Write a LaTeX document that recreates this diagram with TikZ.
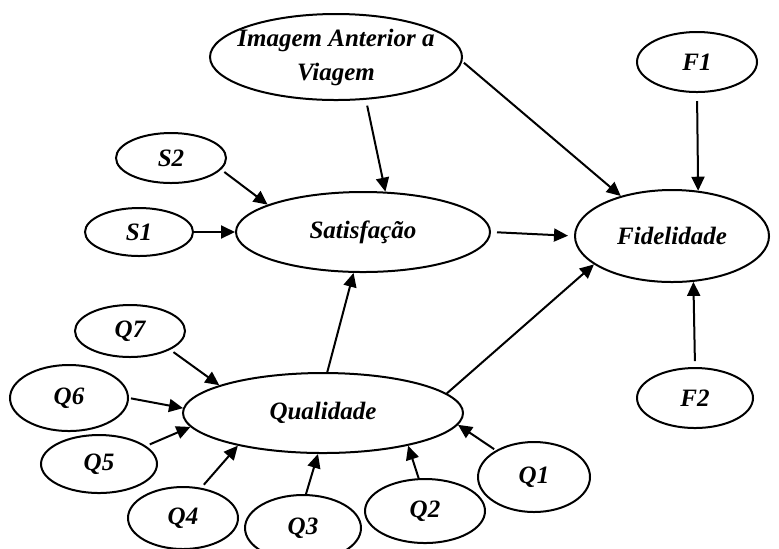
\documentclass[tikz,border=0pt]{standalone}
\usepackage{fontspec}
\setmainfont{Liberation Serif}
\usetikzlibrary{shapes.geometric,arrows.meta}

\begin{document}
\begin{tikzpicture}[x=0.5pt,y=-0.5pt,
    var/.style={ellipse,draw,line width=1pt,inner sep=0pt,font=\fontsize{12.5}{17}\selectfont\bfseries\itshape},
    arr/.style={line width=1pt,-{Triangle[length=7pt,width=6.5pt]}}]
        \useasboundingbox (0,0) rectangle (779,548);
        % constructs
        \node [var,inner xsep=-8pt,minimum width=126pt,minimum height=43pt,align=center] (img) at (336,57) {Imagem Anterior a\\Viagem};
        \node [var,minimum width=127pt,minimum height=40pt] (sat) at (363,232) {Satisfação};
        \node [var,minimum width=97pt,minimum height=46pt] (fid) at (672,236) {Fidelidade};
        \node [var,minimum width=140pt,minimum height=40pt] (qual) at (323,413) {Qualidade};
        % indicators
        \node [var,minimum width=60pt,minimum height=30pt] (f1) at (697,62) {F1};
        \node [var,minimum width=58pt,minimum height=30pt] (f2) at (695,398) {F2};
        \node [var,minimum width=55pt,minimum height=25pt] (s2) at (171,158) {S2};
        \node [var,minimum width=54pt,minimum height=24pt] (s1) at (139,232) {S1};
        \node [var,minimum width=55pt,minimum height=26pt] (q7) at (130,331) {Q7};
        \node [var,minimum width=59pt,minimum height=33pt] (q6) at (69,398) {Q6};
        \node [var,minimum width=58pt,minimum height=29pt] (q5) at (99,464) {Q5};
        \node [var,minimum width=55pt,minimum height=31pt] (q4) at (183,518) {Q4};
        \node [var,minimum width=58pt,minimum height=33pt] (q3) at (303,528) {Q3};
        \node [var,minimum width=60pt,minimum height=32pt] (q2) at (425,511) {Q2};
        \node [var,minimum width=56pt,minimum height=35pt] (q1) at (534,477) {Q1};
        % paths
        \draw [arr,shorten <=3pt] (img.-55) -- (sat.61);
        \draw [arr,shorten <=1pt] (img.-2) -- (fid.142);
        \draw [arr,shorten <=4pt] (f1.south) -- (fid.60);
        \draw [arr,shorten <=3pt] (f2.north) -- (fid.-65.5);
        \draw [arr,shorten <=2pt] (s2.-13) -- (sat.164);
        \draw [arr] (s1.east) -- (sat.west);
        \draw [arr,shorten <=3pt,shorten >=3pt] (sat.east) -- (fid.west);
        \draw [arr] (qual.84) -- (sat.-103);
        \draw [arr] (qual.9) -- (fid.-160);
        \draw [arr,shorten <=2pt] (q7.-25) -- (qual.165);
        \draw [arr,shorten <=1pt] (q6.east) -- (qual.178);
        \draw [arr,shorten <=2pt] (q5.21) -- (qual.186);
        \draw [arr,shorten <=2pt] (q4.59) -- (qual.201);
        \draw [arr] (q3.85) -- (qual.-97);
        \draw [arr] (q2.101) -- (qual.-21);
        \draw [arr,shorten <=1pt] (q1.145) -- (qual.-5);
    \end{tikzpicture}
\end{document}
